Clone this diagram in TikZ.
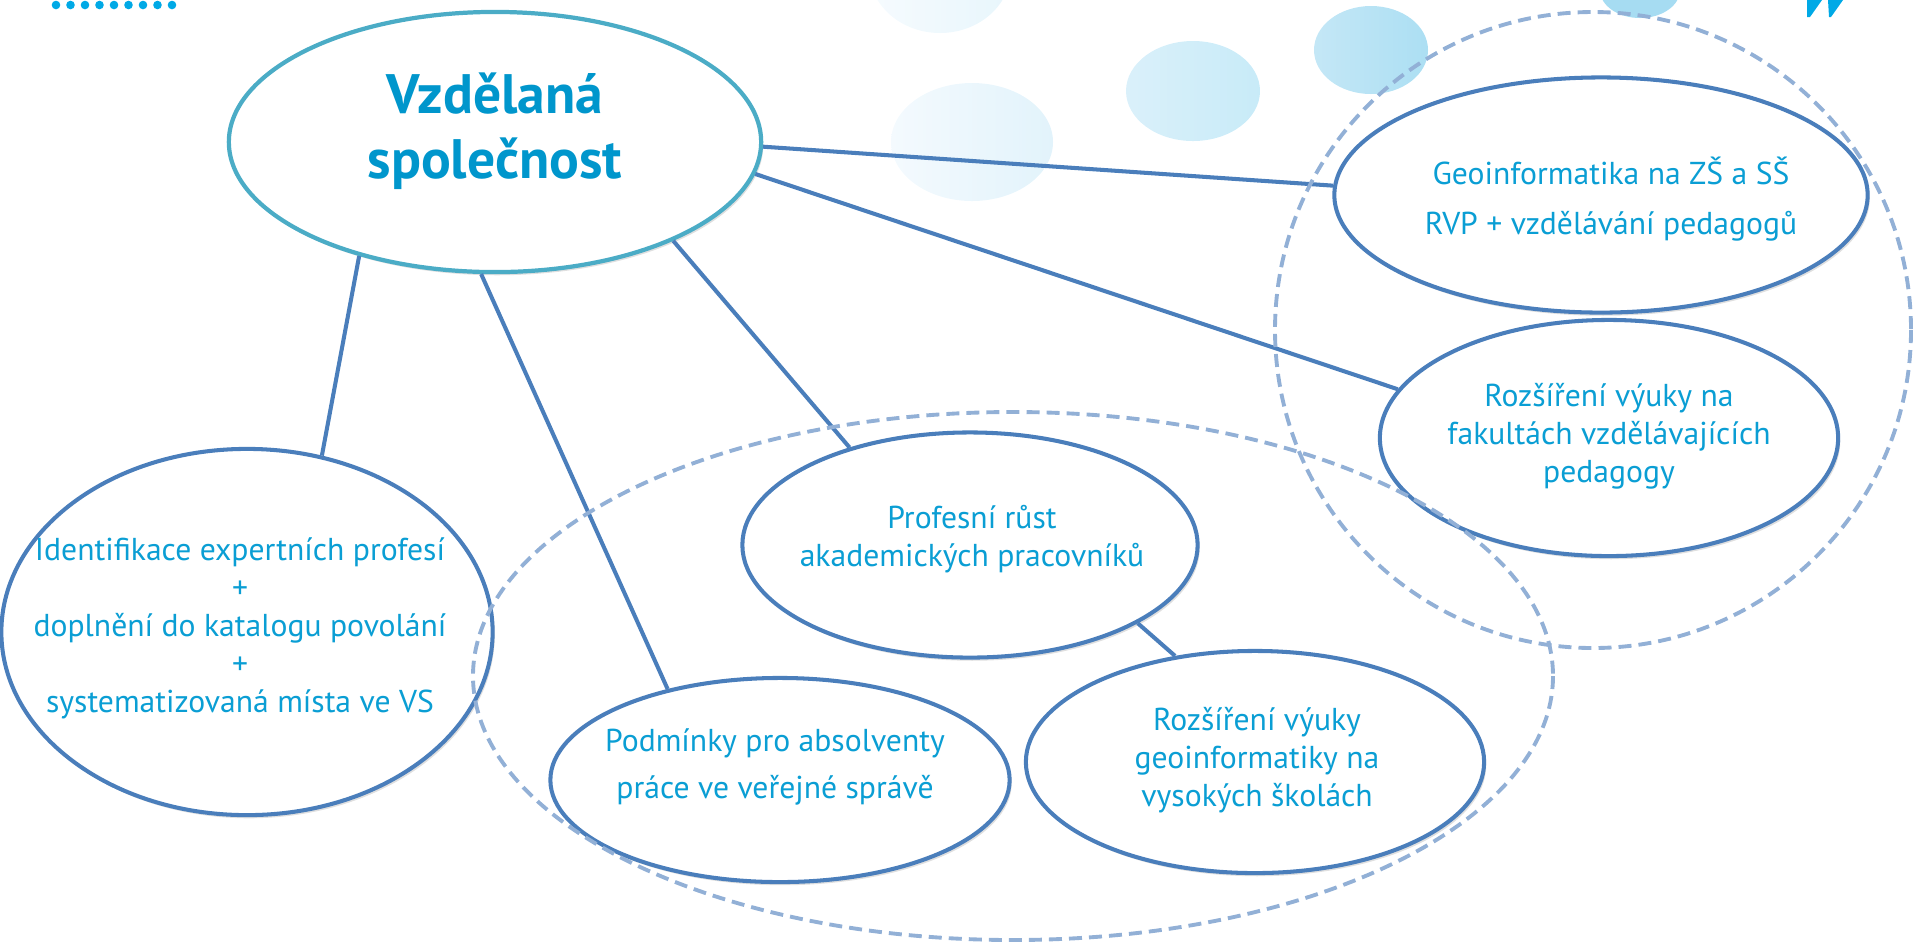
\documentclass[tikz,border=0pt]{standalone}
\usepackage{fontspec}
\setmainfont{PT Sans}
\usetikzlibrary{shapes.geometric,shadows}

\definecolor{outblue}{RGB}{74,126,187}
\definecolor{mainteal}{RGB}{75,172,198}
\definecolor{dashblue}{RGB}{146,176,214}
\definecolor{txtblue}{RGB}{10,158,212}
\definecolor{boldblue}{RGB}{0,150,204}
\definecolor{dotcyan}{RGB}{0,169,230}
\definecolor{bubaL}{RGB}{246,251,254}
\definecolor{bubaR}{RGB}{232,246,252}
\definecolor{bubbL}{RGB}{244,250,254}
\definecolor{bubbR}{RGB}{226,243,251}
\definecolor{bubcL}{RGB}{218,240,250}
\definecolor{bubcR}{RGB}{200,235,248}
\definecolor{bubdL}{RGB}{196,231,246}
\definecolor{bubdR}{RGB}{172,223,243}
\definecolor{bube}{RGB}{166,220,242}

\begin{document}
\begin{tikzpicture}[x=0.01cm,y=-0.01cm,
    bub/.style={ellipse,draw=outblue,line width=1.15pt,fill=white,inner sep=0pt,
        drop shadow={shadow xshift=0.6pt,shadow yshift=-0.9pt,opacity=0.25}},
    txt/.style={align=center,text=txtblue,font=\fontsize{9}{10.8}\selectfont},
    link/.style={draw=outblue,line width=1.15pt},
    ring/.style={draw=dashblue,line width=1.1pt,dash pattern=on 3.7pt off 2pt}]

    \useasboundingbox (0,0) rectangle (1915,941);
    \clip (0,0) rectangle (1915,941);

    % bubliny v pozadi
    \shade[left color=bubaL,right color=bubaR] (940,-30) ellipse (71 and 63);
    \shade[left color=bubbL,right color=bubbR] (972,142) ellipse (81 and 59);
    \shade[left color=bubcL,right color=bubcR] (1193,91) ellipse (67 and 50);
    \shade[left color=bubdL,right color=bubdR] (1371,50) ellipse (57 and 44);
    \fill[bube] (1640,-10) ellipse (40 and 28);

    % tecky a znacka
    \foreach \i in {0,...,8} {
            \fill[dotcyan] (56+\i*14.5,5) circle (4.3);
        }
    \fill[dotcyan] (1807,0) -- (1822,0) -- (1810,17) -- (1807,17) -- cycle;
    \fill[dotcyan] (1828,0) -- (1843,0) -- (1831,17) -- (1829,17) -- cycle;

    % elipsy
    \node[bub,draw=mainteal,line width=1.2pt,minimum width=5.32cm,minimum height=2.60cm] (main) at (495,142) {};
    \node[bub,minimum width=5.33cm,minimum height=2.35cm] (geo) at (1601,195) {};
    \node[bub,minimum width=4.58cm,minimum height=2.36cm] (fakult) at (1609,438) {};
    \node[bub,minimum width=4.91cm,minimum height=3.66cm] (ident) at (247,632) {};
    \node[bub,minimum width=4.55cm,minimum height=2.25cm] (rust) at (970,545) {};
    \node[bub,minimum width=4.59cm,minimum height=2.04cm] (absol) at (780,780) {};
    \node[bub,minimum width=4.58cm,minimum height=2.22cm] (vysoke) at (1255,762) {};

    % spojnice
    \draw[link] (main.-1) -- (geo.178.5);
    \draw[link] (main.-7) -- (fakult.167);
    \draw[link] (main.-29) -- (rust.141.5);
    \draw[link] (main.-96) -- (absol.141.5);
    \draw[link] (main.-140) -- (ident.67);
    \draw[link] (rust.-25) -- (vysoke.127);

    % texty
    \node[txt,text=boldblue,font=\fontsize{15.8}{18.5}\selectfont\bfseries] (maintxt) at (495,131) {Vzdělaná\\společnost};
    \node[txt] (geotxt) at (1611,199) {Geoinformatika na ZŠ a SŠ\\[3.4pt]RVP + vzdělávání pedagogů};
    \node[txt] (fakulttxt) at (1609,436) {Rozšíření výuky na\\fakultách vzdělávajících\\pedagogy};
    \node[txt] (identtxt) at (240,628) {Identifikace expertních profesí\\+\\doplnění do katalogu povolání\\+\\systematizovaná místa ve VS};
    \node[txt] (rusttxt) at (972,539) {Profesní růst\\akademických pracovníků};
    \node[txt] (absoltxt) at (775,767) {Podmínky pro absolventy\\[2.8pt]práce ve veřejné správě};
    \node[txt] (vysoketxt) at (1257,760) {Rozšíření výuky\\geoinformatiky na\\vysokých školách};

    % carkovane skupiny
    \draw[ring] (1593,330) circle (318);
    \draw[ring] (1013,676) ellipse (540 and 264);

\end{tikzpicture}
\end{document}
